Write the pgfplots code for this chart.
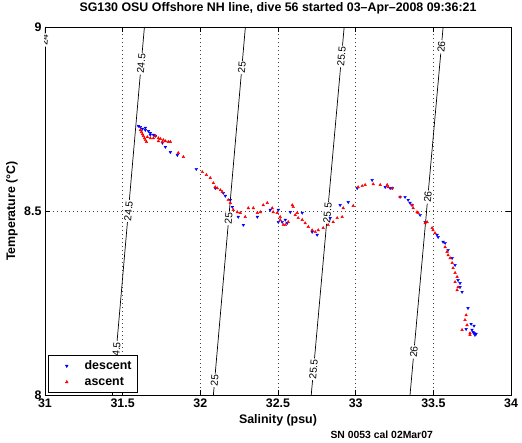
\documentclass[border=0pt]{standalone}
\usepackage{fontspec}
\setmainfont{Liberation Sans}
\usepackage{pgfplots}
\pgfplotsset{compat=1.18}
\newcommand\mf{\fontsize{12.4}{14}\selectfont\bfseries}
\newcommand\cf{\fontsize{10.2}{12}\selectfont}
\pgfplotsset{
  mylegimg/.style={legend image code/.code={\draw[##1] plot coordinates {(0.5cm,0cm)}; \path (0cm,0cm) (1.05cm,0cm);}},
  iso/.style={black, line width=0.7pt, forget plot},
}
\tikzset{lab/.style={sloped, fill=white, inner sep=1pt, font=\cf}}
\begin{document}
\begin{tikzpicture}
\useasboundingbox (-45pt,-47pt) rectangle (477pt,395pt);
\begin{axis}[
  at={(0pt,0pt)}, anchor=south west,
  scale only axis, width=466pt, height=368pt,
  xmin=31, xmax=34, ymin=8, ymax=9,
  xtick={31,31.5,32,32.5,33,33.5,34}, ytick={8,8.5,9},
  /pgf/number format/assume math mode=true,
  tick label style={font=\mf},
  tick align=inside, tick pos=both, major tick length=5pt,
  tick style={black, line width=0.5pt},
  axis line style={black, line width=0.6pt},
  grid=major, major grid style={black!75, dash pattern=on 0.5pt off 3.5pt, line width=0.5pt},
  title={SG130 OSU Offshore NH line, dive 56 started 03--Apr--2008 09:36:21},
  title style={at={(0.5,1)}, anchor=base, yshift=9pt, font=\mf},
  xlabel={Salinity (psu)},
  xlabel style={at={(axis description cs:0.5,-0.068)}, anchor=center, font=\mf},
  ylabel={Temperature (°C)},
  ylabel style={at={(axis description cs:-0.071,0.5)}, anchor=center, font=\mf},
  legend style={at={(0.0065,0.008)}, anchor=south west, draw=black, line width=0.5pt,
    font=\mf, row sep=2pt, inner xsep=4pt, inner ysep=3pt, cells={anchor=west}},
]
% isopycnals (sigma-t)
\addplot[iso] coordinates {(30.797,8) (31.003,9)}
  node[pos=0.965, lab]{24};
\addplot[iso] coordinates {(31.434,8) (31.640,9)}
  node[pos=0.117, lab]{24.5}
  node[pos=0.50, lab]{24.5}
  node[pos=0.90, lab]{24.5};
\addplot[iso] coordinates {(32.084,8) (32.290,9)}
  node[pos=0.04, lab]{25}
  node[pos=0.48, lab]{25}
  node[pos=0.89, lab]{25};
\addplot[iso] coordinates {(32.714,8) (32.926,9)}
  node[pos=0.07, lab]{25.5}
  node[pos=0.495, lab]{25.5}
  node[pos=0.92, lab]{25.5};
\addplot[iso] coordinates {(33.350,8) (33.563,9)}
  node[pos=0.117, lab]{26}
  node[pos=0.538, lab]{26}
  node[pos=0.946, lab]{26};
% descent
\addplot[only marks, mark=triangle*, mark size=1.5pt, color=blue, mark options={rotate=180, fill=blue, draw=blue}, mylegimg] coordinates {
(31.601,8.731) (31.614,8.728) (31.627,8.723) (31.646,8.720) (31.666,8.717)
(31.678,8.712) (31.698,8.707) (31.711,8.704) (31.646,8.726) (31.678,8.707)
(31.756,8.685) (31.775,8.674) (31.807,8.660) (31.852,8.652) (31.974,8.614)
(32.096,8.562) (32.148,8.549) (32.161,8.541) (32.193,8.530) (32.206,8.511)
(32.244,8.484) (32.277,8.462) (32.367,8.484) (32.450,8.503) (32.502,8.503)
(32.502,8.470) (32.527,8.470) (32.547,8.476) (32.559,8.467) (32.579,8.497)
(32.656,8.495) (32.720,8.443) (32.752,8.435) (32.836,8.481) (32.900,8.516)
(32.952,8.524) (33.010,8.562) (33.106,8.584) (33.190,8.565) (33.222,8.562)
(33.235,8.562) (33.286,8.538) (33.318,8.538) (33.338,8.530) (33.350,8.522)
(33.363,8.516) (33.415,8.489) (33.447,8.470) (33.524,8.435) (33.531,8.429)
(33.563,8.416) (33.576,8.413) (33.595,8.394) (33.621,8.372) (33.640,8.353)
(33.659,8.312) (33.672,8.304) (33.685,8.280) (33.672,8.293) (33.723,8.236)
(33.743,8.193) (33.762,8.188) (33.711,8.179) (33.749,8.177) (33.756,8.171)
(33.768,8.163) (33.775,8.166) (33.762,8.168)
};
\addlegendentry{descent}
% ascent
\addplot[only marks, mark=triangle*, mark size=1.5pt, color=red, mark options={fill=red, draw=red}, mylegimg] coordinates {
(31.614,8.720) (31.621,8.715) (31.627,8.709) (31.633,8.704) (31.640,8.698)
(31.646,8.693) (31.653,8.688) (31.659,8.701) (31.678,8.698) (31.698,8.698)
(31.711,8.704) (31.730,8.698) (31.743,8.696) (31.762,8.693) (31.775,8.690)
(31.794,8.688) (31.807,8.688) (31.730,8.690) (31.756,8.688) (31.858,8.658)
(31.891,8.647) (32.013,8.606) (32.039,8.598) (32.064,8.590) (32.084,8.576)
(32.096,8.565) (32.109,8.562) (32.129,8.557) (32.141,8.552) (32.180,8.530)
(32.193,8.522) (32.212,8.503) (32.238,8.497) (32.257,8.495) (32.289,8.484)
(32.309,8.508) (32.341,8.508) (32.367,8.495) (32.386,8.497) (32.405,8.516)
(32.431,8.522) (32.463,8.508) (32.469,8.497) (32.495,8.495) (32.514,8.484)
(32.514,8.476) (32.534,8.462) (32.547,8.462) (32.566,8.470) (32.592,8.516)
(32.598,8.511) (32.611,8.489) (32.624,8.495) (32.630,8.481) (32.656,8.476)
(32.675,8.467) (32.695,8.457) (32.720,8.448) (32.740,8.443) (32.759,8.448)
(32.791,8.454) (32.823,8.462) (32.855,8.470) (32.881,8.481) (32.913,8.484)
(32.920,8.508) (32.984,8.514) (33.016,8.565) (33.042,8.568) (33.061,8.571)
(33.113,8.573) (33.158,8.571) (33.203,8.571) (33.209,8.565) (33.235,8.562)
(33.286,8.538) (33.363,8.516) (33.370,8.508) (33.395,8.497) (33.402,8.495)
(33.460,8.470) (33.447,8.467) (33.492,8.454) (33.498,8.448) (33.511,8.440)
(33.576,8.402) (33.588,8.389) (33.595,8.380) (33.608,8.372) (33.621,8.359)
(33.627,8.345) (33.640,8.332) (33.653,8.321) (33.659,8.293) (33.653,8.285)
(33.640,8.307) (33.711,8.217) (33.704,8.204) (33.717,8.190) (33.685,8.177)
(33.736,8.168) (33.736,8.163)
};
\addlegendentry{ascent}
\end{axis}
\node[anchor=base west, font=\fontsize{10.4}{12}\selectfont\bfseries] at (282pt,-43pt) {SN 0053 cal 02Mar07};
\end{tikzpicture}
\end{document}
